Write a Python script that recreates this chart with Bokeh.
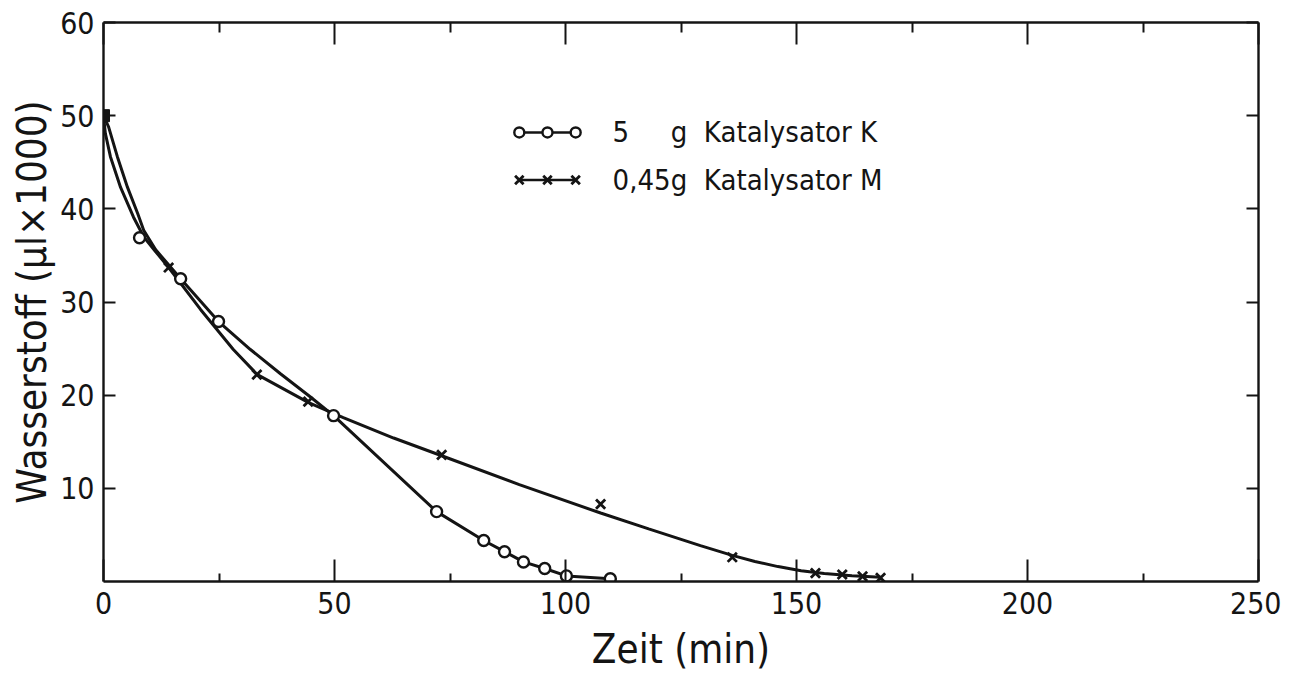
from bokeh.plotting import figure
from bokeh.models import LinearAxis, FixedTicker, Range1d, Label, CustomJSTickFormatter
from bokeh.embed import file_html
from bokeh.resources import INLINE

# ---- data ----
# start point (shared by both runs)
start_x = [0]
start_y = [50]

# 5 g Katalysator K  (open circles)
k_x = [7.8, 16.7, 24.9, 49.8, 72.1, 82.3, 86.8, 90.9, 95.5, 100.2, 109.7]
k_y = [36.9, 32.5, 27.9, 17.8, 7.5, 4.4, 3.2, 2.1, 1.4, 0.6, 0.3]

# 0,45 g Katalysator M  (crosses)
m_x = [14.1, 33.2, 44.3, 73.2, 107.6, 136.1, 154.1, 159.9, 164.3, 168.2]
m_y = [33.7, 22.2, 19.3, 13.6, 8.3, 2.6, 0.9, 0.75, 0.55, 0.4]

# hand-drawn curves
k_curve_x = [0, 1.1, 3.0, 5.2, 7.4, 8.7, 11.3, 16.7, 24.9, 31.8, 38.3, 44.8, 49.8,
             72.1, 82.3, 86.8, 90.9, 95.5, 100.2, 109.7]
k_curve_y = [50, 48.8, 45.6, 42.3, 39.5, 37.7, 35.6, 32.5, 27.9, 24.9, 22.3, 19.8, 17.8,
             7.5, 4.4, 3.2, 2.1, 1.4, 0.6, 0.3]
m_curve_x = [0, 0.4, 1.5, 3.7, 6.5, 8.7, 11.3, 14.1, 21.0, 28.1, 33.3, 44.4, 51.9,
             62.8, 73.2, 90.0, 107.6, 118.0, 129.2, 136.1, 141.0, 146.0, 151.0, 156.0,
             162.0, 168.2]
m_curve_y = [50, 48.1, 45.6, 42.3, 39.1, 37.0, 35.4, 33.7, 29.2, 24.9, 22.2, 19.2, 17.6,
             15.4, 13.5, 10.4, 7.35, 5.65, 3.85, 2.8, 2.15, 1.6, 1.15, 0.85,
             0.62, 0.45]

x_ticks = [0, 50, 100, 150, 200, 250]
x_minor = [25, 75, 125, 175, 225]
y_ticks = [10, 20, 30, 40, 50, 60]

labels = ["5\u2008\u2007\u2007g\u00a0\u00a0Katalysator K",
          "0,45g\u00a0\u00a0Katalysator M"]

FONT = "DejaVu Sans Condensed, DejaVu Sans"
INK = "#141414"

p = figure(width=1281, height=674, x_range=Range1d(0, 250), y_range=Range1d(0, 60),
           output_backend="svg", toolbar_location=None,
           min_border_left=103, min_border_right=23, min_border_top=22, min_border_bottom=92)
p.grid.visible = False
p.outline_line_color = None
p.background_fill_color = "white"

blank = CustomJSTickFormatter(code="return ''")

def style_axis(ax, ticker, tick_in, minor_in, show_labels):
    ax.ticker = ticker
    ax.axis_line_width = 2.4
    ax.axis_line_color = INK
    ax.major_tick_in = tick_in
    ax.major_tick_out = 0
    ax.minor_tick_in = minor_in
    ax.minor_tick_out = 0
    ax.major_tick_line_width = 2
    ax.minor_tick_line_width = 2
    ax.major_tick_line_color = INK
    ax.minor_tick_line_color = INK
    ax.major_label_text_font = FONT
    ax.major_label_text_color = INK
    ax.major_label_text_font_size = "30px"
    ax.axis_label_text_font = FONT
    ax.axis_label_text_color = INK
    ax.axis_label_text_font_style = "normal"
    if not show_labels:
        ax.formatter = blank
        ax.major_label_standoff = 0

xt = FixedTicker(ticks=x_ticks, minor_ticks=x_minor)
yt = FixedTicker(ticks=y_ticks)

xa = p.xaxis[0]
style_axis(xa, xt, 22, 8, True)
xa.major_label_standoff = 10
xa.axis_label = "Zeit (min)"
xa.axis_label_text_font_size = "40px"
xa.axis_label_standoff = 9

ya = p.yaxis[0]
style_axis(ya, yt, 12, 0, True)
ya.major_label_standoff = 9
ya.axis_label = "Wasserstoff (\u00b5l\u00d71000)"
ya.axis_label_text_font_size = "40px"
ya.axis_label_standoff = 2

top = LinearAxis()
style_axis(top, FixedTicker(ticks=x_ticks, minor_ticks=x_minor), 22, 10, False)
p.add_layout(top, "above")

right = LinearAxis()
style_axis(right, FixedTicker(ticks=y_ticks), 12, 0, False)
p.add_layout(right, "right")

# curves
p.line(k_curve_x, k_curve_y, line_color=INK, line_width=3)
p.line(m_curve_x, m_curve_y, line_color=INK, line_width=3)

# markers
p.scatter(m_x, m_y, marker="x", size=13, line_color=INK, line_width=2.8)
p.scatter(k_x, k_y, marker="circle", size=11, line_color=INK, line_width=2.4,
          fill_color="white")
p.scatter(start_x, start_y, marker="square", size=12, line_color=INK, fill_color=INK)

# legend (drawn as glyphs + labels)
leg_x = [90.0, 96.1, 102.2]
leg_y = [48.2, 43.1]
p.line(leg_x, [leg_y[0]] * 3, line_color=INK, line_width=2.6)
p.scatter(leg_x, [leg_y[0]] * 3, marker="circle", size=10, line_color=INK,
          line_width=2.4, fill_color="white")
p.line(leg_x, [leg_y[1]] * 3, line_color=INK, line_width=2.6)
p.scatter(leg_x, [leg_y[1]] * 3, marker="x", size=12, line_color=INK, line_width=2.8)
for lab, yy in zip(labels, leg_y):
    p.add_layout(Label(x=110.2, y=yy, text=lab, text_font=FONT, text_font_size="29px",
                       text_color=INK, text_baseline="middle", text_align="left"))

open("out.html", "w").write(file_html(p, INLINE))
